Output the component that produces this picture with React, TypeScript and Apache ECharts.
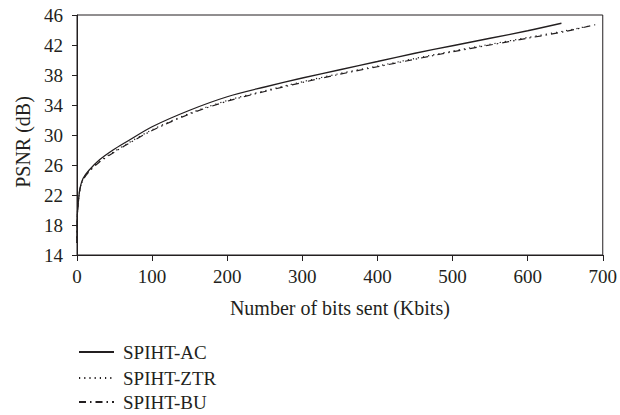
import React, { useEffect, useRef } from "react";
import * as echarts from "echarts";

const seriesNames = ["SPIHT-AC", "SPIHT-ZTR", "SPIHT-BU"];

const bitsAC = [0, 0.5, 2, 4, 8, 16, 30, 48, 66, 100, 150, 200, 250, 300, 350, 400, 450, 500, 550, 600, 645];
const psnrAC = [15.6, 19.5, 21.3, 22.9, 24.2, 25.3, 26.7, 28.0, 29.1, 31.1, 33.3, 35.1, 36.4, 37.6, 38.7, 39.8, 40.9, 41.9, 42.9, 43.9, 44.9];

const bitsZTR = [0, 0.5, 2, 4, 8, 16, 30, 48, 66, 100, 150, 200, 250, 300, 350, 400, 450, 500, 550, 600, 650, 680];
const psnrZTR = [15.6, 19.4, 21.2, 22.8, 24.1, 25.2, 26.5, 27.7, 28.8, 30.7, 32.9, 34.6, 35.9, 37.1, 38.2, 39.2, 40.2, 41.2, 42.1, 43.0, 43.9, 44.5];

const bitsBU = [0, 0.5, 2, 4, 8, 16, 30, 48, 66, 100, 150, 200, 250, 300, 350, 400, 450, 500, 550, 600, 650, 690];
const psnrBU = [15.6, 19.4, 21.2, 22.8, 24.0, 25.1, 26.4, 27.6, 28.7, 30.6, 32.8, 34.5, 35.8, 37.0, 38.1, 39.1, 40.1, 41.1, 42.0, 42.9, 43.8, 44.7];

const xTicks = { min: 0, max: 700, interval: 100 };
const yTicks = { min: 14, max: 46, interval: 4 };

const xTitle = "Number of bits sent (Kbits)";
const yTitle = "PSNR (dB)";

const INK = "#231f20";
const FONT = "'Liberation Serif', 'DejaVu Serif', serif";

function pairs(xs: number[], ys: number[]) {
  return xs.map((x, i) => [x, ys[i]]);
}

export default function App() {
  const ref = useRef<HTMLDivElement>(null);
  useEffect(() => {
    if (!ref.current) return;
    const chart = echarts.init(ref.current, undefined, { renderer: "svg" });
    const legendBase = {
      orient: "vertical",
      left: 78,
      padding: 0,
      itemWidth: 35,
      itemHeight: 14,
      itemStyle: { color: "transparent", borderColor: "transparent", borderWidth: 0, opacity: 0 },
      textStyle: { fontFamily: FONT, fontSize: 19, color: INK, lineHeight: 20, padding: [0, 0, 0, 4] },
      selectedMode: false,
    };
    chart.setOption({
      animation: false,
      backgroundColor: "#fff",
      textStyle: { fontFamily: FONT },
      grid: {
        show: true,
        left: 77,
        right: 17,
        top: 15,
        bottom: 160,
        borderColor: INK,
        borderWidth: 1,
        backgroundColor: "transparent",
      },
      legend: [
        { ...legendBase, top: 342, data: [seriesNames[0]] },
        { ...legendBase, top: 368, data: [seriesNames[1]] },
        { ...legendBase, top: 392, data: [seriesNames[2]] },
      ],
      xAxis: {
        type: "value",
        min: xTicks.min,
        max: xTicks.max,
        interval: xTicks.interval,
        name: xTitle,
        nameLocation: "middle",
        nameGap: 43,
        nameTextStyle: { fontFamily: FONT, fontSize: 20, color: INK },
        axisLine: { show: true, lineStyle: { color: INK, width: 1 } },
        axisTick: { show: true, inside: false, length: 6, lineStyle: { color: INK } },
        axisLabel: { fontFamily: FONT, fontSize: 19, color: INK, margin: 12 },
        splitLine: { show: false },
      },
      yAxis: {
        type: "value",
        min: yTicks.min,
        max: yTicks.max,
        interval: yTicks.interval,
        name: yTitle,
        nameLocation: "middle",
        nameGap: 36,
        nameRotate: 90,
        nameTextStyle: { fontFamily: FONT, fontSize: 20, color: INK, padding: [0, 14, 0, 0] },
        axisLine: { show: true, lineStyle: { color: INK, width: 1 } },
        axisTick: { show: true, inside: false, length: 5, lineStyle: { color: INK } },
        axisLabel: { fontFamily: FONT, fontSize: 19, color: INK, margin: 14 },
        splitLine: { show: false },
      },
      series: [
        {
          name: seriesNames[0],
          type: "line",
          data: pairs(bitsAC, psnrAC),
          symbol: "none",
          showSymbol: false,
          smooth: 0.3,
          lineStyle: { color: INK, width: 1.3, type: "solid" },
          itemStyle: { color: INK },
          z: 3,
        },
        {
          name: seriesNames[1],
          type: "line",
          data: pairs(bitsZTR, psnrZTR),
          symbol: "none",
          showSymbol: false,
          smooth: 0.3,
          lineStyle: { color: INK, width: 1.2, type: [1.2, 4] },
          itemStyle: { color: INK },
          z: 2,
        },
        {
          name: seriesNames[2],
          type: "line",
          data: pairs(bitsBU, psnrBU),
          symbol: "none",
          showSymbol: false,
          smooth: 0.3,
          lineStyle: { color: INK, width: 1.2, type: [7, 4, 1.5, 4] },
          itemStyle: { color: INK },
          z: 2,
        },
      ],
    });
    return () => chart.dispose();
  }, []);
  return <div ref={ref} style={{ position: "absolute", left: 0, top: 0, width: 620, height: 415 }} />;
}
